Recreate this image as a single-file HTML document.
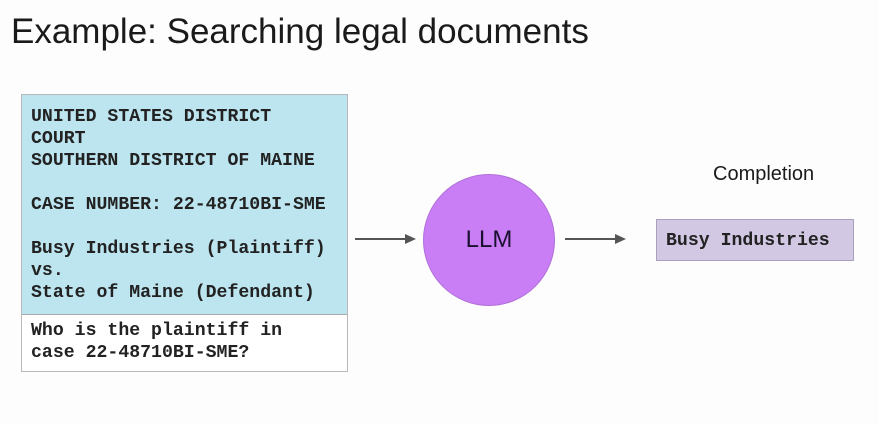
<!DOCTYPE html>
<html><head><style>
body{margin:0;width:878px;height:424px;background:#fdfdfd;position:relative;overflow:hidden;font-family:"Liberation Sans",sans-serif}
.t{position:absolute;left:11px;top:12px;font-size:35px;color:#1a1a1a;white-space:nowrap}
.box{position:absolute;left:21px;top:94px;width:325px;height:276px;border:1px solid #b8b8b8;background:#fff}
.blue{position:absolute;left:0;top:0;width:325px;height:219px;background:#bde5f0;border-bottom:1px solid #aaa}
.m{font-family:"Liberation Mono",monospace;font-weight:bold;font-size:18.2px;color:#222;line-height:22px;white-space:pre;position:absolute;left:9px}
.circ{position:absolute;left:423px;top:174px;width:130px;height:130px;border-radius:50%;background:#c97ef5;border:1px solid #b070d8;display:flex;align-items:center;justify-content:center;font-size:24px;color:#1a1030}
.comp{position:absolute;left:656px;top:219px;width:196px;height:40px;background:#d2c8e4;border:1px solid #a9a0bd}
</style></head><body>
<div class="t">Example: Searching legal documents</div>
<div class="box"><div class="blue"></div>
<div class="m" style="top:11px">UNITED STATES DISTRICT
COURT
SOUTHERN DISTRICT OF MAINE

CASE NUMBER: 22-48710BI-SME

Busy Industries (Plaintiff)
vs.
State of Maine (Defendant)</div>
<div class="m" style="top:225px">Who is the plaintiff in
case 22-48710BI-SME?</div>
</div>
<svg style="position:absolute;left:0;top:0" width="878" height="424">
<line x1="355" y1="239" x2="407" y2="239" stroke="#555" stroke-width="2"/>
<polygon points="405,234 416,239 405,244" fill="#555"/>
<line x1="565" y1="239" x2="617" y2="239" stroke="#555" stroke-width="2"/>
<polygon points="615,234 626,239 615,244" fill="#555"/>
</svg>
<div class="circ">LLM</div>
<div style="position:absolute;left:713px;top:163px;font-size:20px;color:#1a1a1a">Completion</div>
<div class="comp"><div class="m" style="top:10px;left:9px">Busy Industries</div></div>
</body></html>
